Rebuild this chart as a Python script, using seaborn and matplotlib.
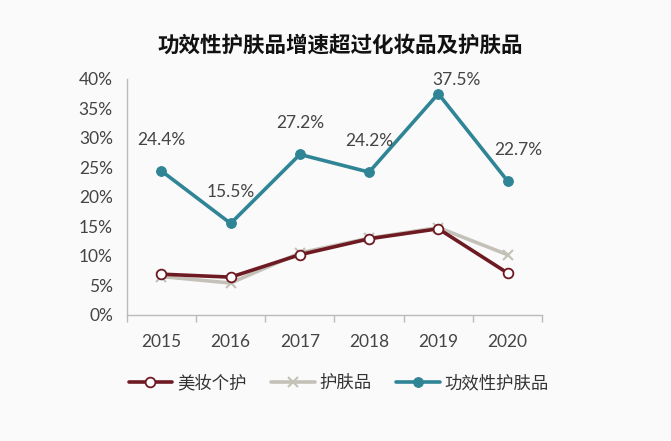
import matplotlib
matplotlib.use("Agg")
import matplotlib.pyplot as plt
import seaborn as sns
import pandas as pd
from matplotlib.ticker import FuncFormatter, FixedLocator

years = ["2015", "2016", "2017", "2018", "2019", "2020"]
beauty = [6.9, 6.4, 10.2, 12.9, 14.6, 7.1]
skincare = [6.5, 5.4, 10.5, 13.0, 14.8, 10.2]
functional = [24.4, 15.5, 27.2, 24.2, 37.5, 22.7]
series_names = ["美妆个护", "护肤品", "功效性护肤品"]
title = "功效性护肤品增速超过化妆品及护肤品"

sns.set_theme(style="white")
plt.rcParams["font.family"] = ["Lato", "Noto Sans CJK SC", "DejaVu Sans"]

rows = []
for name, vals in zip(series_names, [beauty, skincare, functional]):
    for i, (y, v) in enumerate(zip(years, vals)):
        rows.append({"idx": i, "year": y, "series": name, "value": v})
df = pd.DataFrame(rows)

fig = plt.figure(figsize=(6.71, 4.41), dpi=100)
fig.patch.set_facecolor("#fafafa")
ax = fig.add_axes([0.189, 0.286, 0.619, 0.535])
ax.set_facecolor("#fafafa")

colors = {"美妆个护": "#6e1a22", "护肤品": "#c4c1b8", "功效性护肤品": "#2f8596"}
styles = {
    "美妆个护": dict(marker="o", markersize=7, markerfacecolor="white", markeredgecolor="#6e1a22", markeredgewidth=1.3),
    "护肤品": dict(marker="x", markersize=7, markeredgecolor="#c4c1b8", markeredgewidth=1.5),
    "功效性护肤品": dict(marker="o", markersize=7, markerfacecolor="#2f8596", markeredgecolor="#2f8596"),
}
order = ["护肤品", "美妆个护", "功效性护肤品"]
handles = {}
for name in order:
    sub = df[df["series"] == name]
    sns.lineplot(data=sub, x="idx", y="value", ax=ax, color=colors[name], linewidth=2.6,
                 legend=False, **styles[name])
    handles[name] = ax.lines[-1]

label_off = {4: (13, 9.5), 5: (8, 22)}
for i, v in enumerate(functional):
    dx, dy = label_off.get(i, (0, 22.5))
    ax.annotate(f"{v}%", (i, v), xytext=(dx, dy), textcoords="offset points",
                ha="center", va="center", fontsize=12.5, color="#444444")

ax.set_xlim(-0.5, 5.5)
ax.set_ylim(0, 40)
ax.yaxis.set_major_locator(FixedLocator(range(0, 41, 5)))
ax.yaxis.set_major_formatter(FuncFormatter(lambda v, p: f"{int(v)}%"))
ax.set_xticks(range(len(years)))
ax.set_xticklabels(years)
ax.xaxis.set_minor_locator(FixedLocator([i - 0.5 for i in range(len(years) + 1)]))
ax.tick_params(axis="x", which="major", length=0, pad=14, labelsize=12.5, labelcolor="#444444")
ax.tick_params(axis="x", which="minor", length=5, color="#bbbbbb", bottom=True)
ax.tick_params(axis="y", length=0, pad=10, labelsize=12.5, labelcolor="#444444")
ax.set_xlabel("")
ax.set_ylabel("")
for s in ["top", "right"]:
    ax.spines[s].set_visible(False)
for s in ["left", "bottom"]:
    ax.spines[s].set_color("#bbbbbb")
    ax.spines[s].set_linewidth(1)

fig.text(0.507, 0.898, title, ha="center", va="center", fontsize=15.5, fontweight="bold",
         family=["Noto Sans CJK SC"], color="#111111")

leg = fig.legend([handles[n] for n in series_names], series_names, loc="center",
                 bbox_to_anchor=(0.505, 0.131), ncol=3, frameon=False,
                 prop={"family": "Noto Sans CJK SC", "size": 12.5}, handlelength=2.5,
                 columnspacing=1.4, handletextpad=0.3)
for t in leg.get_texts():
    t.set_color("#333333")

fig.savefig("out.png", dpi=100, facecolor=fig.get_facecolor())
